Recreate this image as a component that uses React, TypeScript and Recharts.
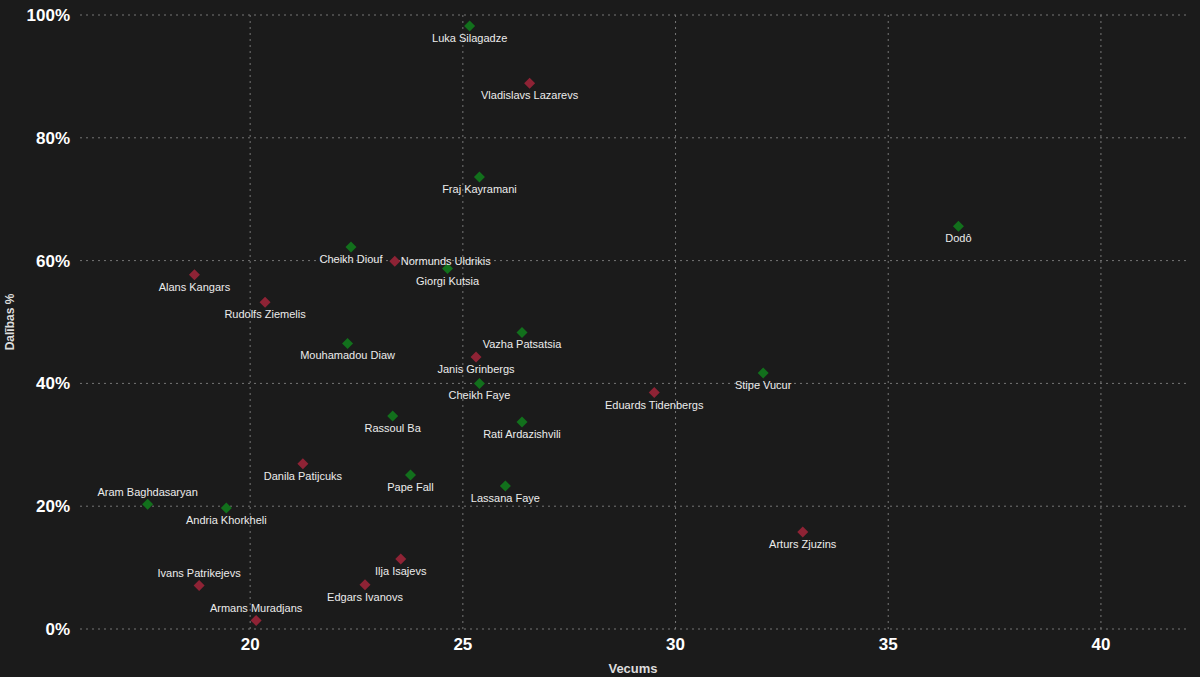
import { ScatterChart, Scatter, XAxis, YAxis, CartesianGrid } from 'recharts'

const players = [
  'Luka Silagadze', 'Vladislavs Lazarevs', 'Fraj Kayramani', 'Dodô', 'Cheikh Diouf',
  'Normunds Uldrikis', 'Giorgi Kutsia', 'Alans Kangars', 'Rudolfs Ziemelis', 'Vazha Patsatsia',
  'Mouhamadou Diaw', 'Janis Grinbergs', 'Cheikh Faye', 'Stipe Vucur', 'Eduards Tidenbergs',
  'Rassoul Ba', 'Rati Ardazishvili', 'Danila Patijcuks', 'Pape Fall', 'Lassana Faye',
  'Aram Baghdasaryan', 'Andria Khorkheli', 'Arturs Zjuzins', 'Ilja Isajevs', 'Ivans Patrikejevs',
  'Edgars Ivanovs', 'Armans Muradjans',
]
const ages = [
  25.16, 26.57, 25.39, 36.65, 22.37,
  23.4, 24.64, 18.69, 20.35, 26.39,
  22.29, 25.31, 25.39, 32.06, 29.5,
  23.35, 26.39, 21.24, 23.77, 26.0,
  17.59, 19.44, 32.99, 23.54, 18.8,
  22.7, 20.14,
]
const participation = [
  98.2, 88.9, 73.6, 65.6, 62.2,
  59.9, 58.7, 57.7, 53.2, 48.3,
  46.5, 44.3, 40.0, 41.7, 38.5,
  34.7, 33.7, 26.9, 25.1, 23.3,
  20.3, 19.7, 15.8, 11.4, 7.1,
  7.2, 1.4,
]
// true = latvian (red), false = legionnaire (green)
const local = [
  false, true, false, false, false,
  true, false, true, true, false,
  false, true, false, false, true,
  false, false, true, false, false,
  false, false, true, true, true,
  true, true,
]
const xTicks = [20, 25, 30, 35, 40]
const yTicks = [0, 20, 40, 60, 80, 100]
const labelAbove = ['Aram Baghdasaryan', 'Ivans Patrikejevs', 'Armans Muradjans']
const labelRight = ['Normunds Uldrikis']

const rows = players.map((name, i) => ({ name, age: ages[i], pct: participation[i], local: local[i] }))
const localRows = rows.filter((r) => r.local)
const foreignRows = rows.filter((r) => !r.local)

function Marker(props: any) {
  const { cx, cy, payload, fill } = props
  const r = 5.5
  let tx = cx
  let ty = cy + 16
  let anchor: 'middle' | 'start' = 'middle'
  if (labelAbove.includes(payload.name)) ty = cy - 8
  if (labelRight.includes(payload.name)) {
    tx = cx + 6
    ty = cy + 4
    anchor = 'start'
  }
  return (
    <g>
      <path d={`M${cx},${cy - r}L${cx + r},${cy}L${cx},${cy + r}L${cx - r},${cy}Z`} fill={fill} />
      <text x={tx} y={ty} textAnchor={anchor} fontSize={11} fill="#ececec">
        {payload.name}
      </text>
    </g>
  )
}

export default function App() {
  return (
    <div
      style={{
        position: 'fixed',
        top: 0,
        left: 0,
        width: 1200,
        height: 677,
        background: '#1b1b1b',
        fontFamily: '"Liberation Sans", Arial, sans-serif',
      }}
    >
      <ScatterChart width={1200} height={677} margin={{ top: 15, right: 14, bottom: 0, left: 0 }}>
        {/* syncWithTicks keeps the grid off the plot edges */}
        <CartesianGrid stroke="#767676" strokeDasharray="2 4" syncWithTicks />
        <XAxis
          type="number"
          dataKey="age"
          domain={[16, 42]}
          ticks={xTicks}
          height={48}
          axisLine={false}
          tickLine={false}
          tickSize={0}
          tickMargin={9}
          tick={{ fill: '#ffffff', fontSize: 17, fontWeight: 'bold' }}
          label={{ value: 'Vecums', position: 'insideBottom', offset: 4, fill: '#dddddd', fontSize: 13, fontWeight: 'bold' }}
        />
        <YAxis
          type="number"
          dataKey="pct"
          domain={[0, 100]}
          ticks={yTicks}
          width={80}
          axisLine={false}
          tickLine={false}
          tickSize={0}
          tickMargin={10}
          tickFormatter={(v: number) => `${v}%`}
          tick={{ fill: '#ffffff', fontSize: 17, fontWeight: 'bold' }}
          label={{ value: 'Dalības %', angle: -90, position: 'center', dx: -30, fill: '#dddddd', fontSize: 12, fontWeight: 'bold' }}
        />
        <Scatter data={foreignRows} fill="#12701c" shape={<Marker />} isAnimationActive={false} />
        <Scatter data={localRows} fill="#8e2335" shape={<Marker />} isAnimationActive={false} />
      </ScatterChart>
    </div>
  )
}
